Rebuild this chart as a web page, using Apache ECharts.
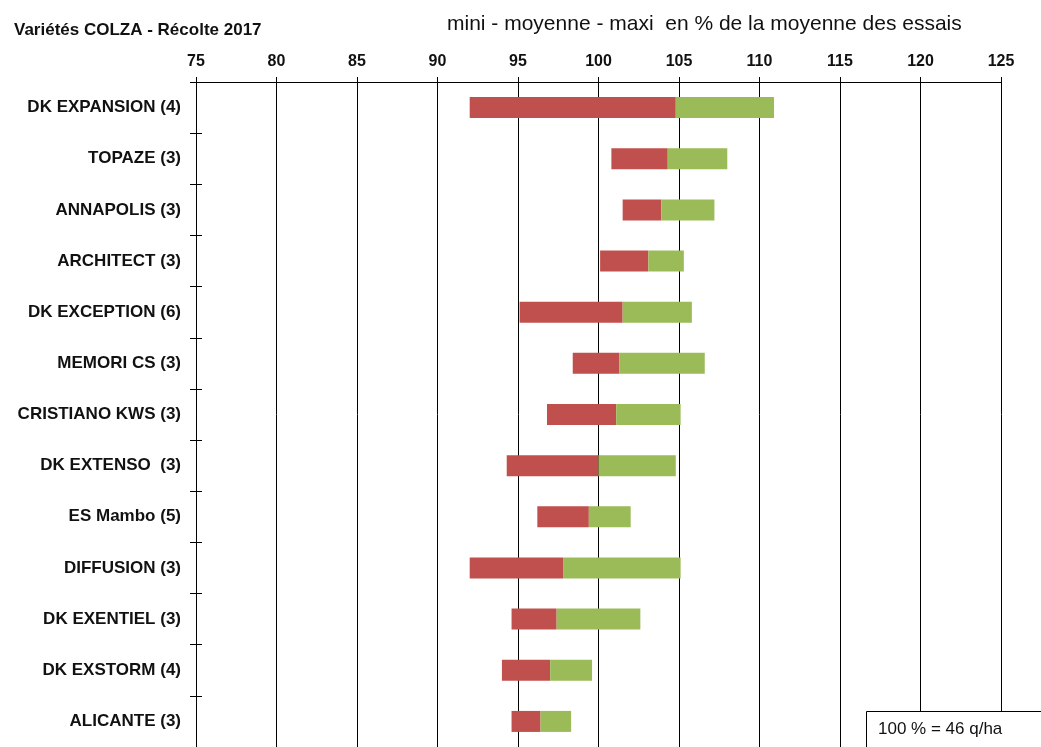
<!DOCTYPE html>
<html>
<head>
<meta charset="utf-8">
<script src="https://cdn.jsdelivr.net/npm/echarts@6/dist/echarts.min.js"></script>
<style>html,body{margin:0;padding:0;background:#fff;}#c{width:1041px;height:747px;}</style>
</head>
<body>
<div id="c"></div>
<script>
const categories = ['DK EXPANSION (4)','TOPAZE (3)','ANNAPOLIS (3)','ARCHITECT (3)','DK EXCEPTION (6)','MEMORI CS (3)','CRISTIANO KWS (3)','DK EXTENSO  (3)','ES Mambo (5)','DIFFUSION (3)','DK EXENTIEL (3)','DK EXSTORM (4)','ALICANTE (3)'];
const mini    = [92.0, 100.8, 101.5, 100.1, 95.1, 98.4, 96.8, 94.3, 96.2, 92.0, 94.6, 94.0, 94.6];
const moyenne = [104.8, 104.3, 103.9, 103.1, 101.5, 101.3, 101.1, 100.0, 99.4, 97.8, 97.4, 97.0, 96.4];
const maxi    = [110.9, 108.0, 107.2, 105.3, 105.8, 106.6, 105.1, 104.8, 102.0, 105.1, 102.6, 99.6, 98.3];
const axisMin = 75, axisMax = 125, axisStep = 5;

const base = mini;
const redPart = moyenne.map((v, i) => +(v - mini[i]).toFixed(2));
const greenPart = maxi.map((v, i) => +(v - moyenne[i]).toFixed(2));

const chart = echarts.init(document.getElementById('c'), null, {renderer: 'canvas'});
const sans = '"Liberation Sans", Arial, sans-serif';
chart.setOption({
  animation: false,
  backgroundColor: '#fff',
  title: [
    {text: 'Variétés COLZA - Récolte 2017', left: 9, top: 17,
     textStyle: {fontFamily: sans, fontSize: 17, fontWeight: 'bold', color: '#111'}},
    {text: 'mini - moyenne - maxi  en % de la moyenne des essais', left: 442, top: 9,
     textStyle: {fontFamily: sans, fontSize: 21, fontWeight: 'normal', color: '#111'}}
  ],
  grid: {left: 196, right: 40, top: 82, height: 672},
  xAxis: {
    type: 'value', position: 'top', min: axisMin, max: axisMax, interval: axisStep,
    axisLine: {show: true, lineStyle: {color: '#000', width: 1}},
    axisTick: {show: true, length: 5, lineStyle: {color: '#000'}},
    axisLabel: {margin: 12, fontFamily: sans, fontSize: 16, fontWeight: 'bold', color: '#111'},
    splitLine: {show: true, lineStyle: {color: '#000', width: 1}}
  },
  yAxis: [
    {
      type: 'category', data: categories, inverse: true, position: 'left',
      axisLine: {show: true, lineStyle: {color: '#000', width: 1}},
      axisTick: {show: true, length: 6, lineStyle: {color: '#000'}},
      axisLabel: {margin: 15, fontFamily: sans, fontSize: 17, fontWeight: 'bold', color: '#111'}
    },
    {
      type: 'category', data: categories, inverse: true, position: 'left',
      axisLine: {show: false},
      axisTick: {show: true, inside: true, length: 6, lineStyle: {color: '#000'}},
      axisLabel: {show: false}
    }
  ],
  series: [
    {type: 'bar', stack: 's', data: base, barWidth: 21, itemStyle: {color: 'rgba(0,0,0,0)'}, silent: true},
    {type: 'bar', stack: 's', data: redPart, barWidth: 21, itemStyle: {color: '#C0504D'}},
    {type: 'bar', stack: 's', data: greenPart, barWidth: 21, itemStyle: {color: '#9BBB59'}}
  ],
  graphic: [
    {type: 'rect', left: 866, top: 711, shape: {width: 180, height: 40},
     style: {fill: '#fff', stroke: '#000', lineWidth: 1}, z: 100},
    {type: 'text', left: 878, top: 721, z: 101,
     style: {text: '100 % = 46 q/ha', fontFamily: sans, fontSize: 17, fill: '#111'}}
  ]
});
</script>
</body>
</html>
